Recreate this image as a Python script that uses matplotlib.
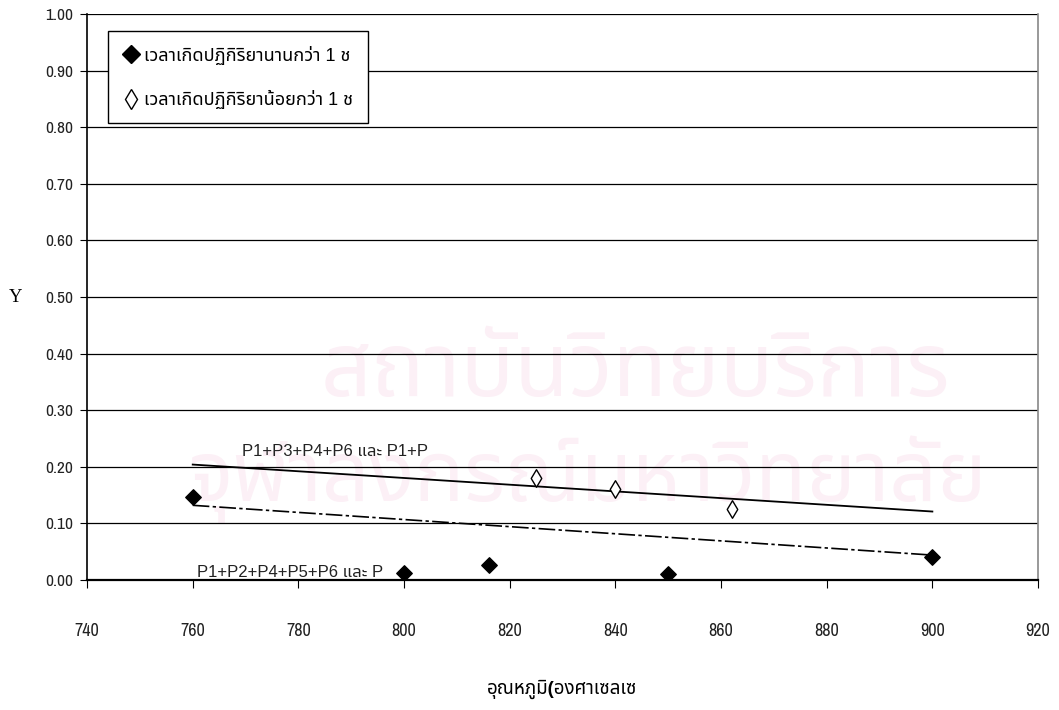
import numpy as np
import matplotlib
matplotlib.use("Agg")
import matplotlib.pyplot as plt
from matplotlib.lines import Line2D

plt.rcParams['font.family'] = ['Liberation Sans', 'Noto Sans Thai', 'DejaVu Sans']

# data
long_x = [760, 800, 816, 850, 900]
long_y = [0.146, 0.012, 0.027, 0.010, 0.040]
short_x = [825, 840, 862]
short_y = [0.180, 0.160, 0.125]

# trend lines (end points)
trend_x = [760, 900]
upper_y = [0.204, 0.121]
lower_y = [0.132, 0.044]

xticks = np.arange(740, 921, 20)
yticks = np.arange(0, 1.001, 0.1)

legend_labels = ['เวลาเกิดปฏิกิริยานานกว่า 1 ช', 'เวลาเกิดปฏิกิริยาน้อยกว่า 1 ช']
upper_label = 'P1+P3+P4+P6 และ P1+P'
lower_label = 'P1+P2+P4+P5+P6 และ P'
xlabel = 'อุณหภูมิ(องศาเซลเซ'

fig = plt.figure(figsize=(10.59, 7.10), dpi=100)
ax = fig.add_axes([0.0822, 0.1831, 0.898, 0.797])

# faint watermark text behind the axes
fig.text(0.60, 0.475, 'สถาบันวิทยบริการ', fontsize=64, color='#fcf0f6',
         family=['Noto Sans Thai'], ha='center', va='center', zorder=-5)
fig.text(0.555, 0.325, 'จุฬาลงกรณ์มหาวิทยาลัย', fontsize=60, color='#fcf0f6',
         family=['Noto Sans Thai'], ha='center', va='center', zorder=-5)
ax.patch.set_alpha(0)

for yv in yticks[1:]:
    ax.axhline(yv, color='black', lw=0.9, zorder=1)

ax.plot(trend_x, upper_y, color='black', lw=1.3, zorder=2)
ax.plot(trend_x, lower_y, color='black', lw=1.2, ls=(0, (10, 2, 2, 2)), zorder=2)

ax.scatter(long_x, long_y, marker='D', s=62, color='black', zorder=3)
ax.scatter(short_x, short_y, marker='d', s=80, facecolor='white',
           edgecolor='black', lw=1.0, zorder=3)

ax.text(769.3, 0.220, upper_label, fontsize=12, color='#222222', va='baseline')
ax.text(760.8, 0.005, lower_label, fontsize=12, color='#222222', va='baseline')

ax.set_xlim(740, 920)
ax.set_ylim(0, 1.0)
ax.set_xticks(xticks)
ax.set_yticks(yticks)
ax.set_yticklabels(['%.2f' % v for v in yticks])
ax.tick_params(axis='x', direction='out', length=6, pad=25, labelsize=13)
ax.tick_params(axis='y', direction='out', length=5, pad=5, labelsize=12.5)
narrow = ['Archivo Narrow', 'Roboto Condensed', 'Liberation Sans']
for lab in ax.get_xticklabels() + ax.get_yticklabels():
    lab.set_family(narrow)
    lab.set_color('#222222')

ax.spines['bottom'].set_linewidth(1.6)
ax.spines['left'].set_linewidth(1.2)
ax.spines['top'].set_visible(False)
ax.spines['right'].set_color('#888888')
ax.spines['right'].set_linewidth(1.2)

ax.set_ylabel('Y', fontsize=13.5, family=['Liberation Serif', 'DejaVu Serif'],
              rotation=0, va='center', ha='center')
ax.yaxis.set_label_coords(-0.075, 0.5)
ax.set_xlabel(xlabel, fontsize=13.5, fontweight='bold', ha='left', va='center')
ax.xaxis.set_label_coords(0.4206, -0.194)

handles = [
    Line2D([], [], marker='D', color='black', ls='none', markersize=9),
    Line2D([], [], marker='d', markerfacecolor='white', markeredgecolor='black',
           ls='none', markersize=10),
]
leg = ax.legend(handles, legend_labels,
                loc='upper left', bbox_to_anchor=(0.022, 0.970), fontsize=13,
                frameon=True, fancybox=False, edgecolor='black', framealpha=1,
                handletextpad=0.2, handlelength=1.0, labelspacing=1.4,
                borderpad=0.8, borderaxespad=0)
leg.get_frame().set_linewidth(1.0)

fig.savefig('out.png', dpi=100)
